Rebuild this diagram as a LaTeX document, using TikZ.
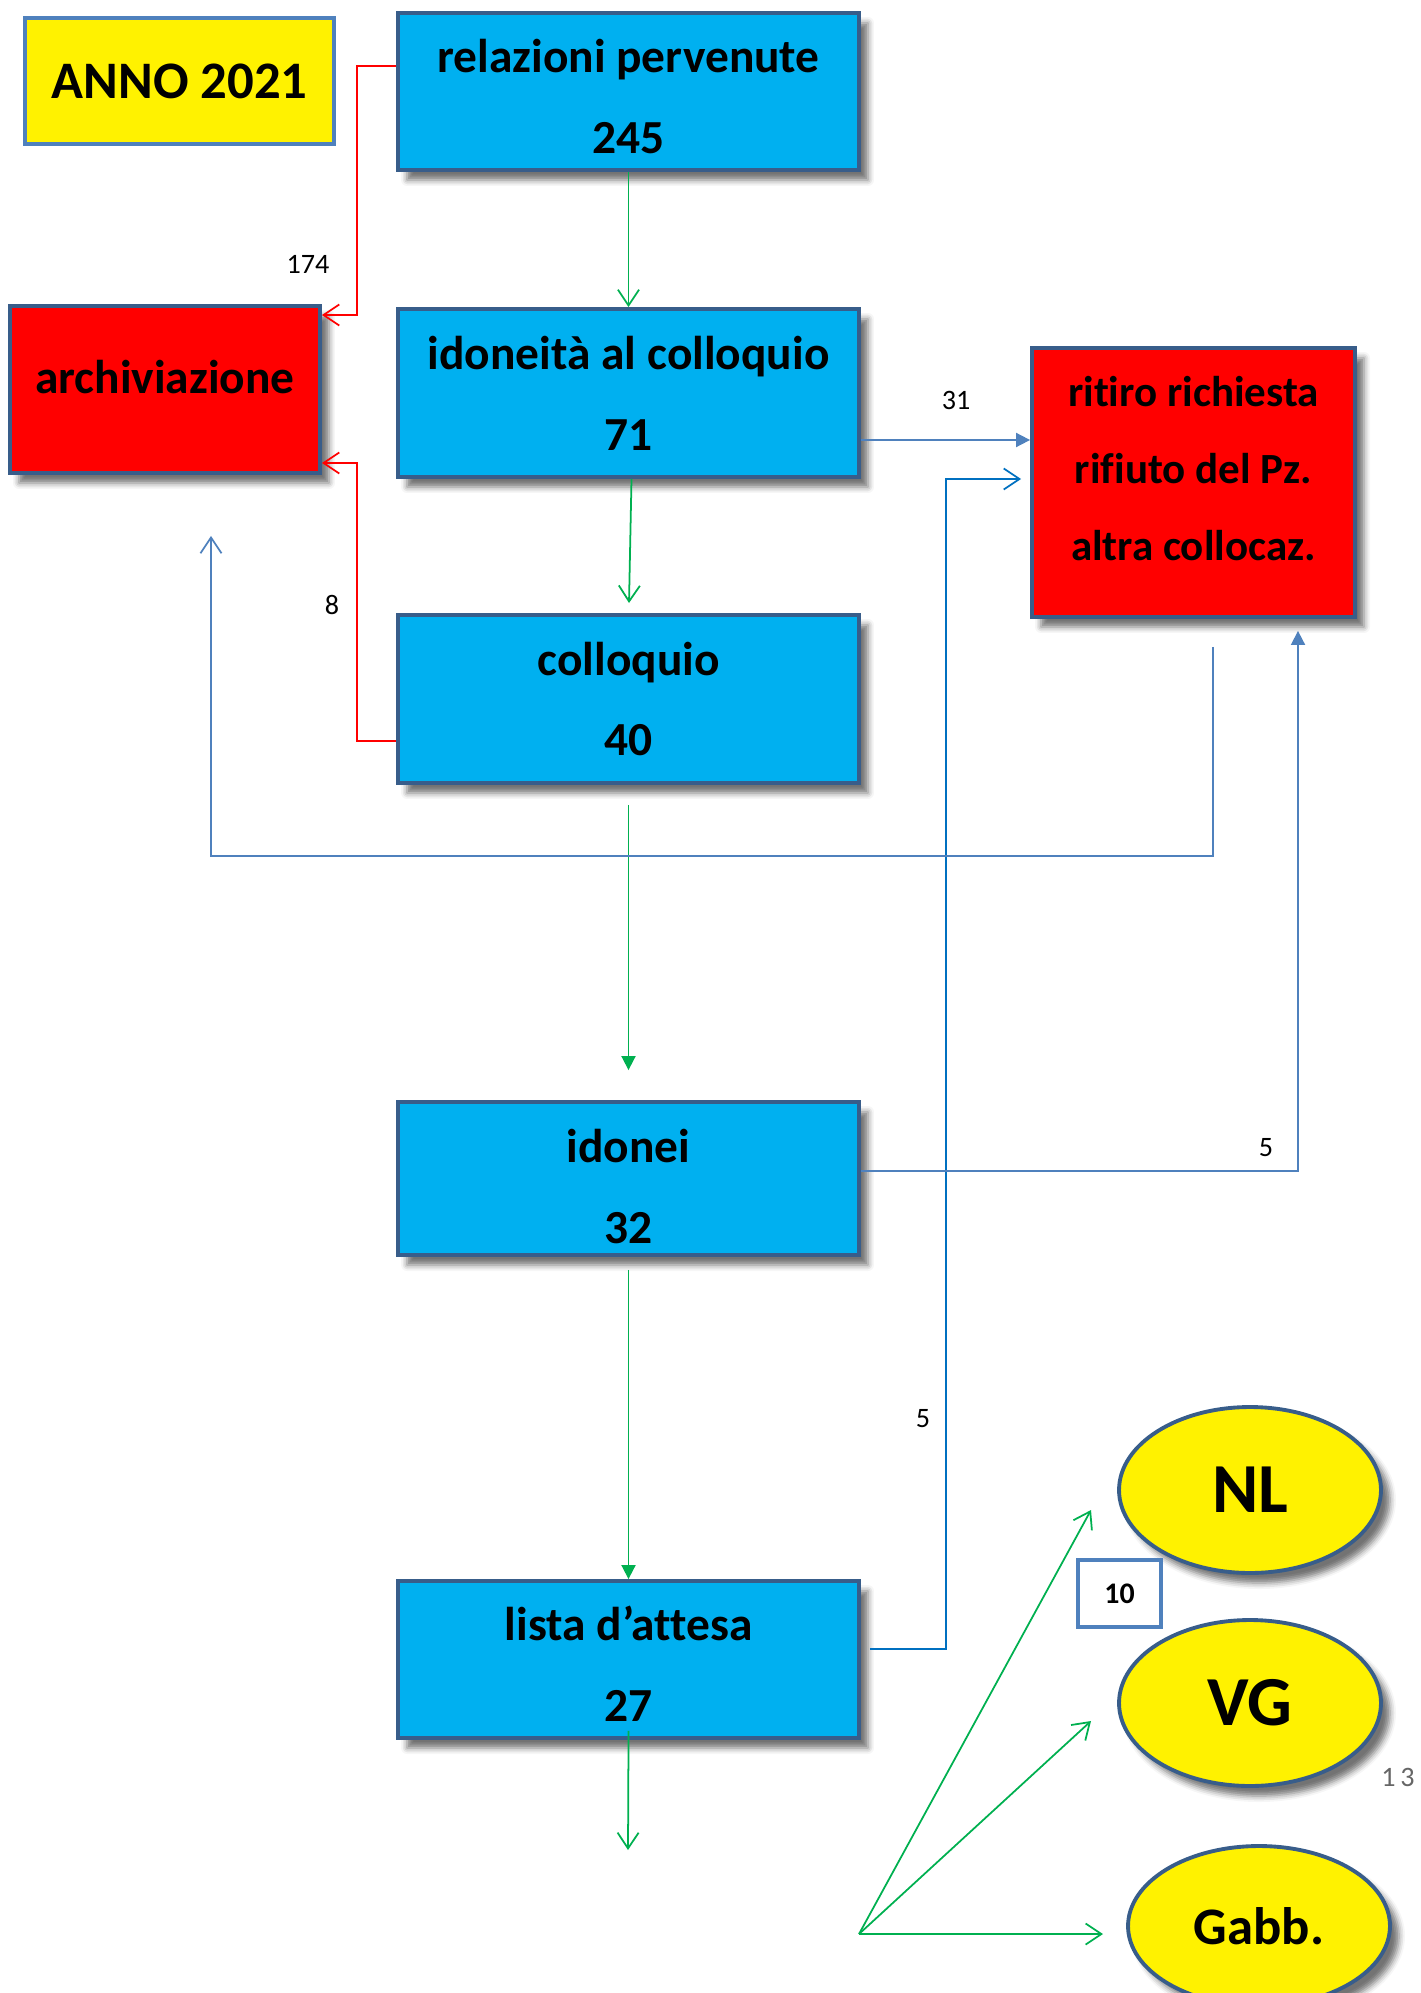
\documentclass[tikz,border=0pt]{standalone}
\usepackage{fontspec}
\setmainfont[Ligatures=NoCommon]{Carlito}
\usepackage{tikz}
\usetikzlibrary{arrows.meta,shapes.geometric,shadows.blur}

\definecolor{boxblue}{HTML}{00B0F0}
\definecolor{boxedge}{HTML}{385D8A}
\definecolor{lineblue}{HTML}{4F81BD}
\definecolor{darkline}{HTML}{0070C0}
\definecolor{grn}{HTML}{00B050}

\begin{document}
\begin{tikzpicture}[x=0.02cm,y=-0.02cm,
    shd/.style={blur shadow={shadow xshift=0.18cm,shadow yshift=-0.2cm,shadow blur radius=0.12cm,shadow opacity=55}},
    blubox/.style={draw=boxedge,line width=2.2pt,fill=boxblue,shd,minimum width=9.22cm,minimum height=3.14cm,
      align=center,inner sep=0pt,font=\fontsize{27}{46}\selectfont\bfseries},
    redbox/.style={blubox,fill=red},
    oval/.style={ellipse,draw=boxedge,line width=2.2pt,fill=yellow,shd,minimum width=5.24cm,minimum height=3.32cm,
      inner sep=0pt,font=\fontsize{40}{44}\selectfont\bfseries},
    num/.style={font=\fontsize{16}{18}\selectfont},
    barb/.style={-{Straight Barb[length=9pt,width=12pt]}},
    tri/.style={-{Triangle[length=8pt,width=8pt]}},
    redln/.style={draw=red,line width=1pt,barb},
    grnln/.style={draw=grn,line width=1pt},
    bluln/.style={draw=lineblue,line width=1pt}]
  \useasboundingbox (0,0) rectangle (1420,1993);

  \node[draw=lineblue,line width=2pt,fill=yellow,minimum width=6.18cm,minimum height=2.52cm,
    font=\fontsize{30}{34}\selectfont\bfseries] (anno) at (179.5,81) {ANNO 2021};

  \node[blubox] (rel) at (628.5,91.5) {\rule{0pt}{0.87cm}relazioni pervenute\\245};
  \node[blubox,minimum height=3.36cm] (ido) at (628.5,393) {idoneità al colloquio\\71};
  \node[blubox,minimum height=3.36cm] (coll) at (628.5,699) {colloquio\\40};
  \node[blubox,minimum height=3.06cm] (idon) at (628.5,1178.5) {\rule{0pt}{0.97cm}idonei\\32};
  \node[blubox] (lista) at (628.5,1659.5) {\rule{0pt}{0.85cm}lista d’attesa\\27};

  \node[redbox,minimum width=6.2cm,minimum height=3.34cm] (arch) at (165,389.5) {archiviazione\rule[-0.52cm]{0pt}{0pt}};
  \node[redbox,minimum width=6.46cm,minimum height=5.38cm,font=\fontsize{24.5}{44}\selectfont\bfseries]
    (rit) at (1193.5,482.5) {ritiro richiesta\\rifiuto del Pz.\\altra collocaz.\rule[-0.56cm]{0pt}{0pt}};

  \node[oval] (nl) at (1250,1490) {NL};
  \node[oval] (vg) at (1250,1703) {VG};
  \node[oval,minimum height=3.2cm,font=\fontsize{30}{34}\selectfont\bfseries] (gabb) at (1259,1926) {Gabb.};
  \node[draw=lineblue,line width=2pt,fill=white,minimum width=1.66cm,minimum height=1.34cm,
    font=\fontsize{17}{20}\selectfont\bfseries] (ten) at (1119.5,1593.5) {10};

  % rami verso archiviazione
  \coordinate (ra) at (357,66);
  \coordinate (rb) at (357,315);
  \coordinate (rc) at (357,741);
  \coordinate (rd) at (357,463);
  \draw[redln] (rel.west |- ra) -- (ra) -- (rb) -- (arch.east |- rb);
  \draw[redln] (coll.west |- rc) -- (rc) -- (rd) -- (arch.east |- rd);
  \node[num] (n174) at (308,264) {174};
  \node[num] (n8) at (332,605) {8};

  % percorso principale
  \coordinate (g2) at (629,603);
  \coordinate (gend) at (628,1850);
  \draw[grnln,barb] ([xshift=0.06cm]ido.south) -- (g2);
  \draw[grnln,barb] (rel.south) -- (ido.north);
  \draw[grnln,tri,shorten <=0.4cm,shorten >=0.6cm] (coll.south) -- (idon.north);
  \draw[grnln,tri,shorten <=0.26cm] (idon.south) -- (lista.north);
  \draw[grnln,barb,shorten <=-0.18cm] (lista.south) -- (gend);

  % uscite verso ritiro
  \coordinate (b31) at (1032,440);
  \draw[bluln,tri] (ido.east |- b31) -- (rit.west |- b31);
  \node[num] (n31) at (956,400) {31};

  \coordinate (b5a) at (946,1649);
  \coordinate (b5b) at (946,479);
  \draw[draw=darkline,line width=1pt,barb,shorten <=0.18cm,shorten >=0.18cm]
    (lista.east |- b5a) -- (b5a) -- (b5b) -- (rit.west |- b5b);
  \node[num] (n5a) at (923,1419) {5};

  \coordinate (b5c) at (1298,1171);
  \draw[bluln,tri,shorten >=0.24cm] (idon.east |- b5c) -- (b5c) -- (b5c |- rit.south);
  \node[num] (n5b) at (1266,1148) {5};

  \coordinate (lpa) at (1213,856);
  \coordinate (lpb) at (211,856);
  \draw[bluln,barb,shorten <=0.56cm,shorten >=1.22cm] (rit.south -| lpa) -- (lpa) -- (lpb) -- (lpb |- arch.south);

  % smistamento
  \coordinate (fan) at (859,1934);
  \coordinate (fnl) at (1091,1510);
  \coordinate (fvg) at (1091,1721);
  \coordinate (fgb) at (1103,1934);
  \draw[grnln,barb] (fan) -- (fnl);
  \draw[grnln,barb] (fan) -- (fvg);
  \draw[grnln,barb] (fan) -- (fgb);

  \node[num,text=black!60] (pag) at (1398,1777) {1\,3};
\end{tikzpicture}
\end{document}
